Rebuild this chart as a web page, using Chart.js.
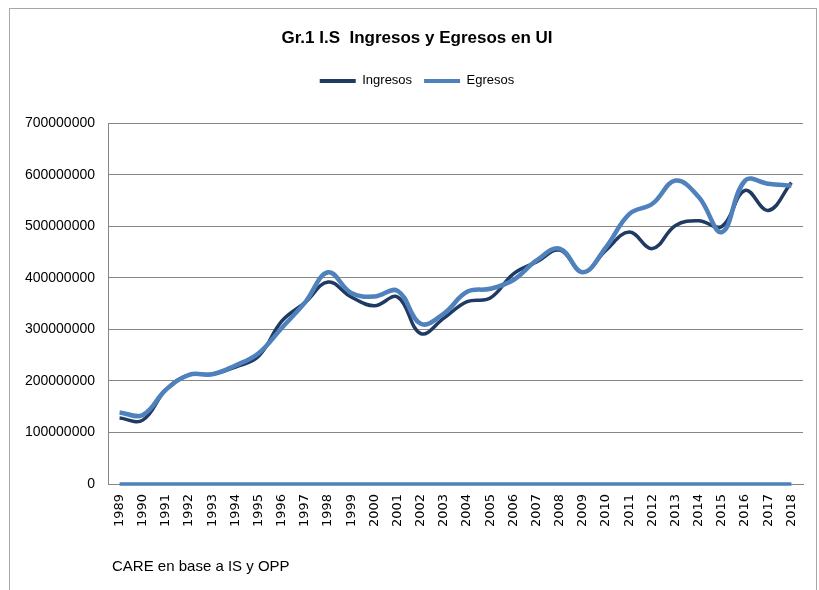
<!DOCTYPE html>
<html>
<head>
<meta charset="utf-8">
<script src="https://cdn.jsdelivr.net/npm/chart.js@4"></script>
<style>
  html, body { margin: 0; padding: 0; background: #fff; }
  #wrap { position: relative; width: 819px; height: 590px; overflow: hidden; background: #fff; }
  #frame { position: absolute; left: 9px; top: 8px; width: 808px; height: 640px; border: 1px solid #a6a6a6; box-sizing: border-box; pointer-events: none; }
  #note { position: absolute; left: 112px; top: 557px; font-family: "Liberation Sans", sans-serif; font-size: 15px; color: #000; white-space: nowrap; }
  canvas { position: absolute; left: 0; top: 0; }
</style>
</head>
<body>
<div id="wrap">
  <canvas id="c" width="819" height="590"></canvas>
  <div id="frame"></div>
  <div id="note">CARE en base a IS y OPP</div>
</div>
<script>
const years = ["1989","1990","1991","1992","1993","1994","1995","1996","1997","1998","1999","2000","2001","2002","2003","2004","2005","2006","2007","2008","2009","2010","2011","2012","2013","2014","2015","2016","2017","2018"];
const ingresos = [128000000,124000000,183000000,212000000,213000000,227000000,248000000,316000000,352000000,392000000,363000000,346000000,363000000,292000000,322000000,354000000,361000000,408000000,431000000,454000000,411000000,454000000,489000000,457000000,502000000,511000000,500000000,570000000,531000000,585000000];
const egresos = [139000000,134000000,183000000,212000000,213000000,230000000,254000000,303000000,352000000,411000000,371000000,364000000,375000000,311000000,331000000,373000000,379000000,396000000,434000000,457000000,411000000,460000000,524000000,544000000,589000000,557000000,489000000,589000000,583000000,579000000];
const zeros = [0,0,0,0,0,0,0,0,0,0,0,0,0,0,0,0,0,0,0,0,0,0,0,0,0,0,0,0,0,0];
const yTicks = [0,100000000,200000000,300000000,400000000,500000000,600000000,700000000];

const DARK = "#1f3a63";
const LIGHT = "#4f81bd";
const SANS = "'Liberation Sans', sans-serif";

const legendGap = {
  id: "legendGap",
  beforeInit(chart) {
    const fit = chart.legend.fit;
    chart.legend.fit = function () {
      fit.call(this);
      this.height += 26;
    };
  },
  afterLayout(chart) {
    [chart.titleBlock, chart.legend].forEach(b => {
      if (b) { b.left += 10.5; b.right += 10.5; }
    });
  }
};

new Chart(document.getElementById("c"), {
  type: "line",
  plugins: [legendGap],
  data: {
    labels: years,
    datasets: [
      { label: "Ingresos", data: ingresos, borderColor: DARK, backgroundColor: DARK, borderWidth: 3.5, pointRadius: 0, tension: 0.4, fill: false, order: 3 },
      { label: "Egresos", data: egresos, borderColor: LIGHT, backgroundColor: LIGHT, borderWidth: 4.5, pointRadius: 0, tension: 0.4, fill: false, order: 2 },
      { label: "", data: zeros, borderColor: LIGHT, backgroundColor: LIGHT, borderWidth: 3.5, pointRadius: 0, tension: 0, fill: false, order: 1, clip: false }
    ]
  },
  options: {
    responsive: false,
    animation: false,
    layout: { padding: { left: 10, right: 16, top: 8, bottom: 46 } },
    plugins: {
      tooltip: { enabled: false },
      title: {
        display: true,
        text: "Gr.1 I.S  Ingresos y Egresos en UI",
        color: "#000",
        font: { family: SANS, size: 17, weight: "bold" },
        padding: { top: 20, bottom: 14 }
      },
      legend: {
        display: true,
        position: "top",
        labels: {
          color: "#000",
          font: { family: SANS, size: 13 },
          boxWidth: 36,
          boxHeight: 4,
          padding: 12,
          generateLabels: (chart) => chart.data.datasets.slice(0, 2).map((ds, i) => ({
            text: ds.label, fillStyle: ds.borderColor, strokeStyle: ds.borderColor, lineWidth: 0, datasetIndex: i, hidden: false, fontColor: "#000"
          }))
        }
      }
    },
    scales: {
      x: {
        type: "category",
        offset: true,
        grid: { display: false, drawTicks: false },
        border: { display: true, color: "#868686", width: 1 },
        ticks: { color: "#000", minRotation: 90, maxRotation: 90, autoSkip: false, padding: 10, font: { family: "'DejaVu Sans', sans-serif", size: 13 } },
        afterFit: (axis) => { axis.height = 60; }
      },
      y: {
        min: 0,
        max: 700000000,
        afterBuildTicks: (axis) => { axis.ticks = yTicks.map(v => ({ value: v })); },
        grid: { color: "#868686", lineWidth: 1, drawTicks: false },
        border: { display: true, color: "#868686", width: 1 },
        ticks: { color: "#000", padding: 13, font: { family: SANS, size: 14 }, callback: (v) => String(v) },
        afterFit: (axis) => { axis.width = 98; }
      }
    }
  }
});
</script>
</body>
</html>
